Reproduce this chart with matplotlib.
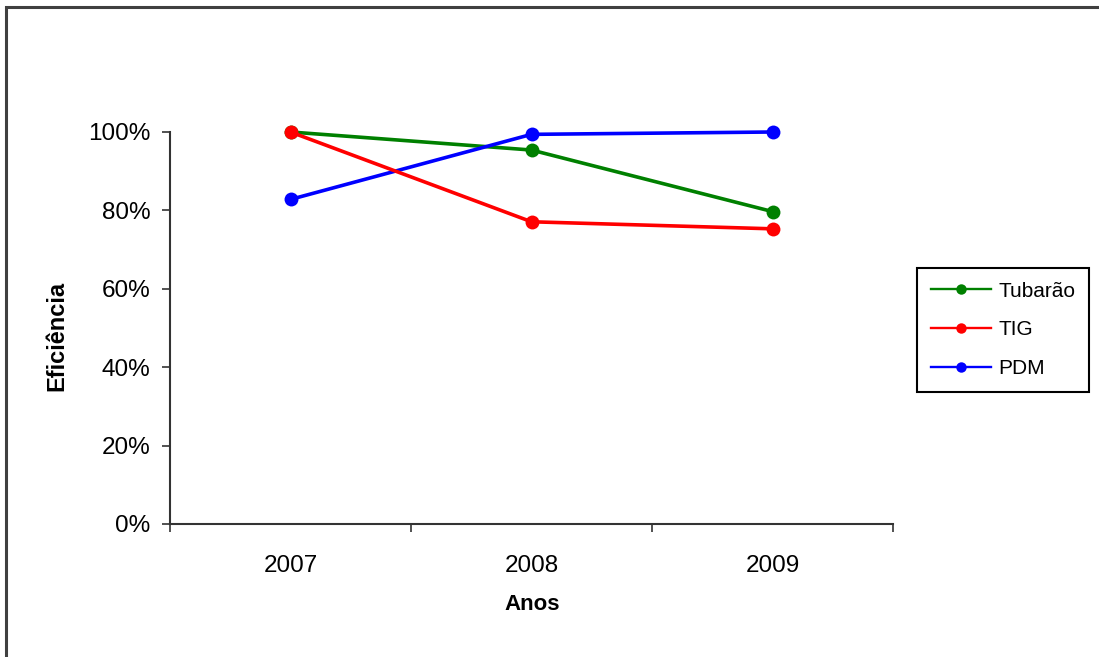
import matplotlib.pyplot as plt
from matplotlib.lines import Line2D
from matplotlib.patches import Rectangle
from matplotlib.ticker import PercentFormatter

plt.rcParams['font.family'] = ['Liberation Sans', 'DejaVu Sans']

anos = ['2007', '2008', '2009']
tubarao = [1.00, 0.954, 0.797]
tig = [1.00, 0.771, 0.753]
pdm = [0.828, 0.994, 1.00]

series = [('Tubarão', tubarao, '#008000'),
          ('TIG', tig, '#ff0000'),
          ('PDM', pdm, '#0000ff')]

W, H = 1099, 657
fig = plt.figure(figsize=(W / 100, H / 100), dpi=100)

# outer chart frame (runs off the right and bottom edges)
fig.patches.append(Rectangle((6 / W, -0.05), 1.2, 1 - 7 / H + 0.05,
                             transform=fig.transFigure, fill=False,
                             edgecolor='#404040', linewidth=2.2))

ax = fig.add_axes([170 / W, (H - 524) / H, (893 - 170) / W, (524 - 132) / H])

x = list(range(len(anos)))
# draw the lines in this order so red sits on top at 2007
for name, vals, col in [series[0], series[2], series[1]]:
    ax.plot(x, vals, color=col, linewidth=2.6, marker='o', markersize=10,
            markeredgewidth=0, label=name, clip_on=False)

ax.set_xlim(-0.5, 2.5)
ax.set_ylim(0, 1)
ax.set_xticks([-0.5, 0.5, 1.5, 2.5])
ax.set_xticklabels([])
ax.set_xticks(x, minor=True)
ax.set_xticklabels(anos, minor=True)
ax.tick_params(axis='x', which='minor', length=0, pad=22, labelsize=17.5)
ax.tick_params(axis='x', which='major', direction='out', length=6,
               width=1.2, color='#333333')
ax.set_yticks([0, 0.2, 0.4, 0.6, 0.8, 1.0])
ax.yaxis.set_major_formatter(PercentFormatter(1.0, decimals=0))
ax.tick_params(axis='y', direction='out', length=6, width=1.2,
               color='#333333', labelsize=17.5, pad=8)

for s in ['top', 'right']:
    ax.spines[s].set_visible(False)
for s in ['left', 'bottom']:
    ax.spines[s].set_color('#333333')
    ax.spines[s].set_linewidth(1.5)

fig.text(532 / W, 1 - 604 / H, 'Anos', ha='center', va='center',
         fontsize=16, fontweight='bold')
fig.text(57 / W, 1 - 336 / H, 'Eficiência', ha='center', va='center',
         rotation=90, fontsize=17, fontweight='bold')

handles = [Line2D([], [], color=col, linewidth=1.7, marker='o',
                  markersize=7.5, markeredgewidth=0)
           for _, _, col in series]
leg = fig.legend(handles, [n for n, _, _ in series], loc='upper left',
                 bbox_to_anchor=(917 / W, 1 - 268 / H), borderaxespad=0,
                 fancybox=False, edgecolor='black', framealpha=1,
                 fontsize=15, handlelength=2.9, handletextpad=0.35,
                 labelspacing=0.95, borderpad=0.65)
leg.get_frame().set_linewidth(1.5)

fig.savefig('out.png', dpi=100)
